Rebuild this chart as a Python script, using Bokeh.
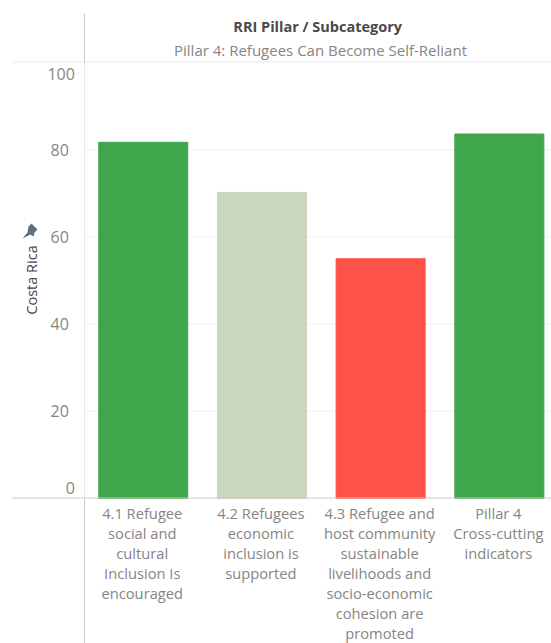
from bokeh.embed import file_html
from bokeh.models import (ColumnDataSource, FixedTicker, Label, LinearAxis,
                          PolyAnnotation, Range1d)
from bokeh.plotting import figure
from bokeh.resources import INLINE

# Scores for Costa Rica under Pillar 4
categories = ["4.1", "4.2", "4.3", "Pillar 4"]
scores = [81.7, 70.2, 55.0, 83.6]
bar_colors = ["#40A64C", "#CBD6BF", "#FF5247", "#40A64C"]
category_lines = [
    ["4.1 Refugee", "social and", "cultural", "Inclusion Is", "encouraged"],
    ["4.2 Refugees", "economic", "inclusion is", "supported"],
    ["4.3 Refugee and", "host community", "sustainable", "livelihoods and",
     "socio-economic", "cohesion are", "promoted"],
    ["Pillar 4", "Cross-cutting", "indicators"],
]
y_ticks = [20, 40, 60, 80]
y_edge_ticks = [0, 100]

FONT = "Open Sans"
LABEL_GREY = "#858585"
LIGHT_RULE = "#e9e9e9"
DARK_RULE = "#c9c9c9"

W, H = 551, 643
PANE_X, BASE_Y = 83.4, 498   # page position of the pane origin
BAND = 118.7                 # pixels per category
UNIT = 4.36                  # pixels per score point


# Annotation screen units run upward from the bottom of the frame
def fy(py):
    return H - py


# The frame fills the page; the ranges place the pane's origin at its corner
p = figure(width=W, height=H, output_backend="svg", toolbar_location=None,
           min_border=0, x_axis_location=None, y_axis_location=None,
           x_range=Range1d(-PANE_X / BAND, (W - PANE_X) / BAND),
           y_range=Range1d((BASE_Y - H) / UNIT, BASE_Y / UNIT))
p.outline_line_color = None
p.xgrid.visible = False
p.ygrid.visible = False

# Horizontal reference lines at each labelled score
p.segment(x0=0, x1=(W - PANE_X) / BAND, y0=y_ticks, y1=y_ticks,
          line_color="#f1f1f1", line_width=1, level="underlay")

positions = [i + 0.5 for i in range(len(categories))]
source = ColumnDataSource(dict(x=positions, top=scores, color=bar_colors))
p.vbar(x="x", top="top", bottom=0, width=0.75, color="color", source=source)

yaxis = LinearAxis(fixed_location=0, ticker=FixedTicker(ticks=y_ticks), axis_line_color=None,
                   major_tick_line_color=None, minor_tick_line_color=None,
                   major_label_text_font=FONT, major_label_text_font_size="16px",
                   major_label_text_color=LABEL_GREY, major_label_standoff=9)
p.add_layout(yaxis, "left")

# The 0 and 100 labels sit just inside the axis ends
for t, off in zip(y_edge_ticks, (11, -11)):
    p.add_layout(Label(x=0, y=t, x_offset=-9, y_offset=off, text=str(t),
                       text_align="right", text_baseline="middle",
                       text_font=FONT, text_font_size="16px", text_color=LABEL_GREY))


# Pane rules, given in page pixels
def rule(xs, ys, color):
    p.add_layout(PolyAnnotation(xs=list(xs), ys=[fy(v) for v in ys],
                                xs_units="screen", ys_units="screen",
                                fill_color=color, fill_alpha=1, line_color=None,
                                editable=False))


rule([12, W, W, 12], [61, 61, 62, 62], LIGHT_RULE)
rule([12, W, W, 12], [497, 497, 498, 498], DARK_RULE)
rule([83.5, 84.5, 84.5, 83.5], [13, 13, 62, 62], DARK_RULE)
rule([83.5, 84.5, 84.5, 83.5], [62, 62, 497, 497], LIGHT_RULE)
rule([83.5, 84.5, 84.5, 83.5], [498, 498, 643, 643], DARK_RULE)

# Header text
p.add_layout(Label(x=321, y=fy(25.5), x_units="screen", y_units="screen",
                   text="RRI Pillar  /  Subcategory", text_align="center",
                   text_baseline="middle", text_font=FONT, text_font_size="14.5px",
                   text_font_style="bold", text_color="#4a4a4a"))
p.add_layout(Label(x=320, y=fy(49.5), x_units="screen", y_units="screen",
                   text="Pillar 4: Refugees Can Become Self-Reliant", text_align="center",
                   text_baseline="middle", text_font=FONT, text_font_size="15px",
                   text_color=LABEL_GREY))

# Row header with pin
p.add_layout(Label(x=31, y=fy(279.5), x_units="screen", y_units="screen", text="Costa Rica",
                   angle=90, angle_units="deg", text_align="center",
                   text_baseline="middle", text_font=FONT, text_font_size="14.5px",
                   text_color="#444444"))
rule([22, 27, 28, 31, 37, 34, 33, 30],
     [238, 232, 226, 223, 229, 232, 236, 234], "#5f6f82")

# Wrapped category labels beneath each bar
for pos, lines in zip(positions, category_lines):
    for i, line in enumerate(lines):
        p.add_layout(Label(x=pos, x_offset=-1, y=fy(512 + i * 20.1), y_units="screen", text=line,
                           text_align="center", text_baseline="middle", text_font=FONT,
                           text_font_size="14.7px", text_color=LABEL_GREY))

open("out.html", "w").write(file_html(p, INLINE))
